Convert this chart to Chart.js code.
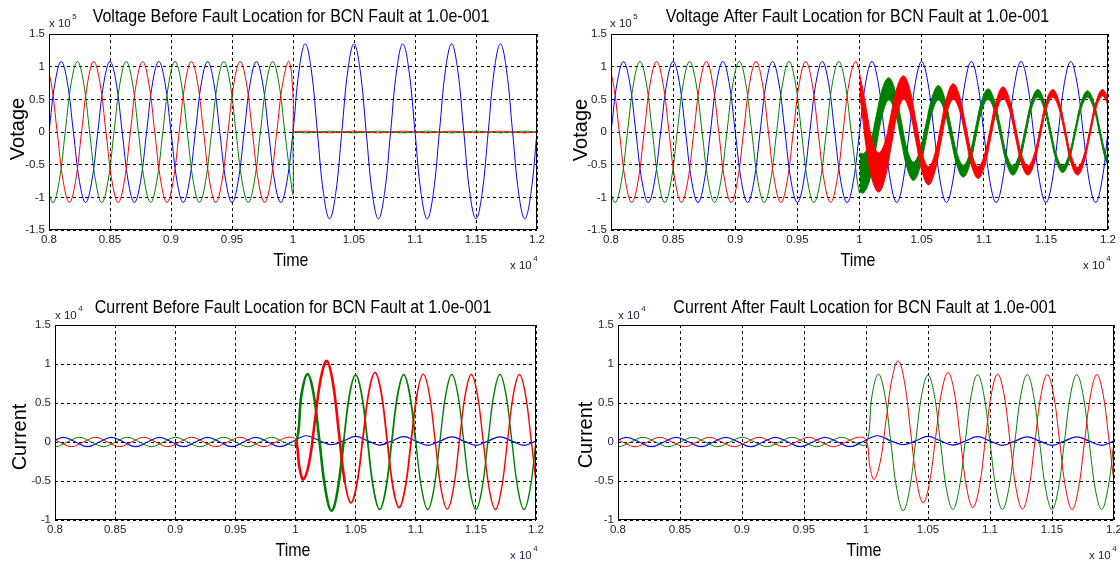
<!DOCTYPE html>
<html><head><meta charset="utf-8">
<script src="https://cdn.jsdelivr.net/npm/chart.js@4.4.0/dist/chart.umd.min.js"></script>
<style>
html,body{margin:0;padding:0;background:#fff;}
#wrap{position:relative;width:1120px;height:561px;overflow:hidden;background:#fff;}
canvas{position:absolute;}
</style></head><body>
<div id="wrap">
<canvas id="c1" width="560" height="280" style="left:0;top:0;width:560px;height:280px"></canvas>
<canvas id="c2" width="560" height="280" style="left:560px;top:0;width:560px;height:280px"></canvas>
<canvas id="c3" width="560" height="281" style="left:0;top:280px;width:560px;height:281px"></canvas>
<canvas id="c4" width="560" height="281" style="left:560px;top:280px;width:560px;height:281px"></canvas>
</div>
<script>
// ---------- tick labels ----------
const xTickLabels = ['0.8','0.85','0.9','0.95','1','1.05','1.1','1.15','1.2'];
const yTickLabelsV = ['-1.5','-1','-0.5','0','0.5','1','1.5'];
const yTickLabelsI = ['-1','-0.5','0','0.5','1','1.5'];

// ---------- voltage (x 10^5), time in samples ----------
const timeV = [8000,8050,8100,8150,8200,8250,8300,8350,8400,8450,8500,8550,8600,8650,8700,8750,8800,8850,8900,8950,9000,9050,9100,9150,9200,9250,9300,9350,9400,9450,9500,9550,9600,9650,9700,9750,9800,9850,9900,9950,10000,10050,10100,10150,10200,10250,10300,10350,10400,10450,10500,10550,10600,10650,10700,10750,10800,10850,10900,10950,11000,11050,11100,11150,11200,11250,11300,11350,11400,11450,11500,11550,11600,11650,11700,11750,11800,11850,11900,11950,12000];
const voltBlueBefore = [0,0.76,1.08,0.76,0,-0.76,-1.08,-0.76, 0,0.76,1.08,0.76,0,-0.76,-1.08,-0.76, 0,0.76,1.08,0.76,0,-0.76,-1.08,-0.76, 0,0.76,1.08,0.76,0,-0.76,-1.08,-0.76, 0,0.76,1.08,0.76,0,-0.76,-1.08,-0.76,
  0,0.95,1.35,0.95,0,-0.94,-1.33,-0.94, 0,0.95,1.35,0.95,0,-0.94,-1.33,-0.94, 0,0.95,1.35,0.95,0,-0.94,-1.33,-0.94, 0,0.95,1.35,0.95,0,-0.94,-1.33,-0.94, 0,0.95,1.35,0.95,0,-0.94,-1.33,-0.94, 0];
const voltBlueAfter = [0,0.76,1.08,0.76,0,-0.76,-1.08,-0.76, 0,0.76,1.08,0.76,0,-0.76,-1.08,-0.76, 0,0.76,1.08,0.76,0,-0.76,-1.08,-0.76, 0,0.76,1.08,0.76,0,-0.76,-1.08,-0.76, 0,0.76,1.08,0.76,0,-0.76,-1.08,-0.76,
  0,0.76,1.08,0.76,0,-0.76,-1.08,-0.76, 0,0.76,1.08,0.76,0,-0.76,-1.08,-0.76, 0,0.76,1.08,0.76,0,-0.76,-1.08,-0.76, 0,0.76,1.08,0.76,0,-0.76,-1.08,-0.76, 0,0.76,1.08,0.76,0,-0.76,-1.08,-0.76, 0];

const timeGreenVPre = [7933,7983,8033,8083,8133,8183,8233,8283,8333,8383,8433,8483,8533,8583,8633,8683,8733,8783,8833,8883,8933,8983,9033,9083,9133,9183,9233,9283,9333,9383,9433,9483,9533,9583,9633,9683,9733,9783,9833,9883,9933];
const voltGreenPre = [0,-0.76,-1.08,-0.76,0,0.76,1.08,0.76, 0,-0.76,-1.08,-0.76,0,0.76,1.08,0.76, 0,-0.76,-1.08,-0.76,0,0.76,1.08,0.76, 0,-0.76,-1.08,-0.76,0,0.76,1.08,0.76, 0,-0.76,-1.08,-0.76,0,0.76,1.08,0.76, 0];
const timeRedVPre = [7967,8017,8067,8117,8167,8217,8267,8317,8367,8417,8467,8517,8567,8617,8667,8717,8767,8817,8867,8917,8967,9017,9067,9117,9167,9217,9267,9317,9367,9417,9467,9517,9567,9617,9667,9717,9767,9817,9867,9917,9967];
const voltRedPre = [1.08,0.76,0,-0.76,-1.08,-0.76,0,0.76, 1.08,0.76,0,-0.76,-1.08,-0.76,0,0.76, 1.08,0.76,0,-0.76,-1.08,-0.76,0,0.76, 1.08,0.76,0,-0.76,-1.08,-0.76,0,0.76, 1.08,0.76,0,-0.76,-1.08,-0.76,0,0.76, 1.08];

// moment of fault
const timeGreenFaultBefore = [9983,10000,10000];
const voltGreenFaultBefore = [-0.76,-0.95,0];
const timeRedFaultBefore = [10000,10000];
const voltRedFaultBefore = [0.55,0];
const timeGreenFaultAfter = [9983,10000];
const voltGreenFaultAfter = [-0.76,-0.94];
const timeRedFaultAfter = [10000];
const voltRedFaultAfter = [0.94];

// near-zero phases after the fault (top-left)
const timeNearZero = [10000,10100,10200,10300,10400,10500,10600,10700,10800,10900,11000,11100,11200,11300,11400,11500,11600,11700,11800,11900,12000];
const voltRedBeforePost = [0,0.012,0,-0.012,0,0.012,0,-0.012,0,0.012,0,-0.012,0,0.012,0,-0.012,0,0.012,0,-0.012,0];
const voltGreenBeforePost = [0,-0.012,0,0.012,0,-0.012,0,0.012,0,-0.012,0,0.012,0,-0.012,0,0.012,0,-0.012,0,0.012,0];

// noisy post-fault bands (upper / lower envelope, top-right)
const timeGreenBand = [10000,10035,10085,10135,10185,10235,10285,10335,10385,10435,10485,10535,10585,10635,10685,10735,10785,10835,10885,10935,10985,11035,11085,11135,11185,11235,11285,11335,11385,11435,11485,11535,11585,11635,11685,11735,11785,11835,11885,11935,11985,12035];
const greenBandUpper = [-0.32,-0.33,-0.17,0.25,0.67,0.83,0.645,0.185,-0.275,-0.46,-0.285,0.125,0.535,0.71,0.525,0.10,-0.325,-0.51,-0.34,0.075,0.49,0.66,0.49,0.075,-0.35,-0.52,-0.35,0.065,0.48,0.65,0.48,0.065,-0.35,-0.52,-0.35,0.05,0.46,0.63,0.46,0.05,-0.35,-0.52];
const greenBandLower = [-0.92,-0.93,-0.71,-0.22,0.27,0.49,0.315,-0.125,-0.565,-0.74,-0.555,-0.125,0.305,0.49,0.315,-0.10,-0.515,-0.69,-0.52,-0.095,0.33,0.50,0.33,-0.075,-0.49,-0.66,-0.49,-0.065,0.36,0.53,0.36,-0.045,-0.45,-0.62,-0.45,-0.05,0.36,0.53,0.36,-0.05,-0.45,-0.62];
const timeRedBand = [10000,10025,10055,10105,10155,10205,10255,10305,10355,10405,10455,10505,10555,10605,10655,10705,10755,10805,10855,10905,10955,11005,11055,11105,11155,11205,11255,11305,11355,11405,11455,11505,11555,11605,11655,11705,11755,11805,11855,11905,11955,12005,12055];
const redBandUpper = [0.90,0.67,0.35,-0.15,-0.32,-0.15,0.28,0.70,0.86,0.65,0.16,-0.325,-0.53,-0.345,0.105,0.555,0.74,0.55,0.10,-0.345,-0.53,-0.35,0.08,0.51,0.69,0.515,0.085,-0.345,-0.52,-0.35,0.065,0.48,0.65,0.48,0.06,-0.37,-0.54,-0.365,0.05,0.47,0.65,0.47,0.05];
const redBandLower = [0.60,0.23,-0.25,-0.75,-0.92,-0.71,-0.22,0.28,0.50,0.31,-0.15,-0.615,-0.81,-0.615,-0.155,0.305,0.50,0.33,-0.10,-0.535,-0.71,-0.53,-0.10,0.33,0.51,0.345,-0.075,-0.495,-0.66,-0.49,-0.065,0.36,0.53,0.36,-0.06,-0.49,-0.66,-0.475,-0.05,0.37,0.55,0.37,-0.05];

// ---------- current (x 10^4) ----------
const timeBlueIPre = [7970,8070,8170,8270,8370,8470,8570,8670,8770,8870,8970,9070,9170,9270,9370,9470,9570,9670,9770,9870,9970];
const curBluePre = [0,0.06,0,-0.06,0,0.06,0,-0.06,0,0.06,0,-0.06,0,0.06,0,-0.06,0,0.06,0,-0.06,0];
const timeBlueIPost = [10090,10200,10300,10400,10500,10600,10700,10800,10900,11000,11100,11200,11300,11400,11500,11600,11700,11800,11900,12000];
const curBluePost = [0.08,0.015,-0.035,0.015,0.072,0.015,-0.04,0.013,0.068,0.013,-0.042,0.012,0.066,0.012,-0.043,0.012,0.065,0.012,-0.043,0.012];

const timeGreenIPre = [7903,8003,8103,8203,8303,8403,8503,8603,8703,8803,8903,9003,9103,9203,9303,9403,9503,9603,9703,9803,9903];
const curGreenPre = [0,-0.06,0,0.06,0,-0.06,0,0.06,0,-0.06,0,0.06,0,-0.06,0,0.06,0,-0.06,0,0.06,0];
const timeGreenIPost = [10000,10050,10100,10150,10200,10250,10300,10350,10400,10450,10500,10550,10600,10650,10700,10750,10800,10850,10900,10950,11000,11050,11100,11150,11200,11250,11300,11350,11400,11450,11500,11550,11600,11650,11700,11750,11800,11850,11900,11950,12000,12050,12100];
const curGreenPost = [-0.03,0.61,0.87,0.62,0,-0.62,-0.88,-0.62,0,0.61,0.86,0.61,0,-0.61,-0.865,-0.61,0,
  0.61,0.865,0.61,0,-0.61,-0.865,-0.61,0, 0.61,0.865,0.61,0,-0.61,-0.865,-0.61,0, 0.61,0.865,0.61,0,-0.61,-0.865,-0.61,0, 0.61,0.865];

const timeRedIPre = [7937,8037,8137,8237,8337,8437,8537,8637,8737,8837,8937,9037,9137,9237,9337,9437,9537,9637,9737,9837,9937];
const curRedPre = [0.06,0,-0.06,0,0.06,0,-0.06,0,0.06,0,-0.06,0,0.06,0,-0.06,0,0.06,0,-0.06,0,0.06];
const timeRedIPost = [10000,10033,10065,10114,10162,10211,10260,10310,10360,10410,10460,10510,10561,10611,10662,10712,10762,10812,10862,10912,10962,11012,11062,11112,11162,11212,11262,11312,11362,11412,11462,11512,11562,11612,11662,11712,11762,11812,11862,11912,11962,12012,12062];
const curRedPost = [0.03,-0.33,-0.48,-0.26,0.28,0.82,1.04,0.77,0.13,-0.51,-0.78,-0.54,0.055,0.65,0.89,0.64,0.025,-0.59,-0.84,-0.59,0.015,0.62,0.87,0.62,0.005,-0.61,-0.86,-0.61,0,0.61,0.865,0.61,0,-0.61,-0.865,-0.61,0,0.61,0.865,0.61,0,-0.61,-0.865];

// ---------- helpers ----------
const BLUE = '#0000ff', GREEN = '#008000', RED = '#ff0000';
const pts = (xs, ys) => xs.map((x, i) => ({x, y: ys[i]}));

function hasFont(name) {
  const c = document.createElement('canvas').getContext('2d');
  const s = 'abcdefghijklmnop 0123456789.-';
  c.font = '20px monospace'; const a = c.measureText(s).width;
  c.font = '20px "' + name + '", monospace'; const b = c.measureText(s).width;
  return Math.abs(a - b) > 0.5;
}
const NARROW = hasFont('Liberation Sans Narrow');
const TICK_FAMILY = NARROW ? '"Liberation Sans Narrow", "Liberation Sans", Arial, sans-serif' : '"Liberation Sans", Arial, sans-serif';
const TICK_SIZE = NARROW ? 13 : 11.5;
const MAIN_FAMILY = '"Liberation Sans", Arial, Helvetica, sans-serif';

function ln(data, color, extra) {
  return Object.assign({data, borderColor: color, backgroundColor: color, borderWidth: 1,
    pointRadius: 0, pointHoverRadius: 0, tension: 0.4, fill: false, clip: 0}, extra || {});
}

const decor = {
  id: 'decor',
  afterDraw(chart, args, o) {
    const ctx = chart.ctx, a = chart.chartArea;
    ctx.save();
    ctx.strokeStyle = '#000'; ctx.lineWidth = 1;
    const l = Math.round(a.left) + 0.5, t = Math.round(a.top) + 0.5;
    const r = Math.round(a.right) - 0.5, b = Math.round(a.bottom) - 0.5;
    ctx.strokeRect(l, t, r - l, b - t);
    ctx.fillStyle = '#000';
    ctx.textAlign = 'center'; ctx.textBaseline = 'middle';
    ctx.save(); ctx.translate(o.tx, o.ty); ctx.scale(1, 1.12);
    ctx.font = '16px ' + MAIN_FAMILY; ctx.fillText(o.title, 0, 0); ctx.restore();
    ctx.save(); ctx.translate(o.xlx, o.xly); ctx.scale(1, 1.12);
    ctx.font = '16px ' + MAIN_FAMILY; ctx.fillText(o.xl, 0, 0); ctx.restore();
    ctx.save(); ctx.translate(o.ylx, o.yly); ctx.rotate(-Math.PI / 2);
    ctx.font = '20px ' + MAIN_FAMILY; ctx.fillText(o.yl, 0, 0); ctx.restore();
    const exp = (x, y, e) => {
      ctx.textAlign = 'left'; ctx.fillStyle = o.tickColor;
      ctx.font = TICK_SIZE + 'px ' + TICK_FAMILY;
      ctx.fillText('x 10', x, y);
      const w = ctx.measureText('x 10').width;
      ctx.font = Math.round(TICK_SIZE * 0.7) + 'px ' + TICK_FAMILY;
      ctx.fillText(e, x + w + 1.5, y - 7);
    };
    exp(o.yEx, o.yEy, o.yExp);
    exp(o.xEx, o.xEy, o.xExp);
    ctx.restore();
  }
};

function makeChart(id, c) {
  const tickFont = {family: TICK_FAMILY, size: TICK_SIZE};
  return new Chart(document.getElementById(id), {
    type: 'line',
    data: {datasets: c.datasets},
    plugins: [decor],
    options: {
      responsive: false, animation: false, events: [],
      layout: {padding: {left: 0, right: c.padRight, top: c.top, bottom: 0}},
      plugins: {legend: {display: false}, title: {display: false}, tooltip: {enabled: false},
        decor: c.decor},
      scales: {
        x: {type: 'linear', min: 8000, max: 12000,
          ticks: {stepSize: 500, autoSkip: false, maxRotation: 0, padding: 3, color: c.tickColor, font: tickFont,
            callback: (v, i) => xTickLabels[i]},
          grid: {color: '#000', lineWidth: 1, drawTicks: false},
          border: {display: false, dash: [3, 3]},
          afterFit: s => { s.height = c.xHeight; s.paddingLeft = 0; s.paddingRight = 0; }
        },
        y: {type: 'linear', min: c.yMin, max: c.yMax,
          ticks: {stepSize: 0.5, autoSkip: false, padding: 4, color: c.tickColor, font: tickFont,
            callback: (v, i) => c.yLabels[i]},
          grid: {color: '#000', lineWidth: 1, drawTicks: false},
          border: {display: false, dash: [3, 3]},
          afterFit: s => { s.width = c.yWidth; s.paddingTop = 0; s.paddingBottom = 0; }
        }
      }
    }
  });
}

// ---------- Top-left: Voltage Before ----------
makeChart('c1', {
  yMin: -1.5, yMax: 1.5, yLabels: yTickLabelsV, padRight: 23, top: 34, yWidth: 49, xHeight: 50, tickColor: '#1a1a1a',
  datasets: [
    ln(pts(timeNearZero, voltRedBeforePost), RED),
    ln(pts(timeRedVPre, voltRedPre).concat(pts(timeRedFaultBefore, voltRedFaultBefore)), RED),
    ln(pts(timeNearZero, voltGreenBeforePost), GREEN),
    ln(pts(timeGreenVPre, voltGreenPre).concat(pts(timeGreenFaultBefore, voltGreenFaultBefore)), GREEN),
    ln(pts(timeV, voltBlueBefore), BLUE)
  ],
  decor: {title: 'Voltage Before Fault Location for BCN Fault at 1.0e-001', tx: 291, ty: 17,
    xl: 'Time', xlx: 291, xly: 261, yl: 'Votage', ylx: 18.5, yly: 129,
    yExp: '5', yEx: 49, yEy: 24, xExp: '4', xEx: 510, xEy: 266, tickColor: '#1a1a1a'}
});

// ---------- Top-right: Voltage After ----------
makeChart('c2', {
  yMin: -1.5, yMax: 1.5, yLabels: yTickLabelsV, padRight: 12, top: 34, yWidth: 51, xHeight: 50, tickColor: '#1a1a1a',
  datasets: [
    ln(pts(timeRedBand, redBandUpper), RED),
    ln(pts(timeRedBand, redBandLower), RED, {fill: '-1'}),
    ln(pts(timeRedVPre, voltRedPre).concat(pts(timeRedFaultAfter, voltRedFaultAfter)), RED),
    ln(pts(timeGreenBand, greenBandUpper), GREEN),
    ln(pts(timeGreenBand, greenBandLower), GREEN, {fill: '-1'}),
    ln(pts(timeGreenVPre, voltGreenPre).concat(pts(timeGreenFaultAfter, voltGreenFaultAfter)), GREEN),
    ln(pts(timeV, voltBlueAfter), BLUE)
  ],
  decor: {title: 'Voltage After Fault Location for BCN Fault at 1.0e-001', tx: 297.5, ty: 17,
    xl: 'Time', xlx: 298, xly: 261, yl: 'Votage', ylx: 21.5, yly: 130,
    yExp: '5', yEx: 50, yEy: 24, xExp: '4', xEx: 523, xEy: 266, tickColor: '#1a1a1a'}
});

// ---------- Bottom-left: Current Before ----------
const thickSeg = {borderWidth: s => { const x = s.p0.parsed.x; return x < 10000 ? 1 : x < 10400 ? 2.6 : x < 11000 ? 1.8 : 1.4; }};
makeChart('c3', {
  yMin: -1, yMax: 1.5, yLabels: yTickLabelsI, padRight: 24, top: 45, yWidth: 55, xHeight: 41, tickColor: '#1c1c44',
  datasets: [
    ln(pts(timeRedIPre, curRedPre).concat(pts(timeRedIPost, curRedPost)), RED, {segment: thickSeg}),
    ln(pts(timeGreenIPre, curGreenPre).concat(pts(timeGreenIPost, curGreenPost)), GREEN, {segment: thickSeg}),
    ln(pts(timeBlueIPre, curBluePre).concat(pts(timeBlueIPost, curBluePost)), BLUE, {borderWidth: 1.2})
  ],
  decor: {title: 'Current Before Fault Location for BCN Fault at 1.0e-001', tx: 293, ty: 28,
    xl: 'Time', xlx: 293, xly: 271, yl: 'Current', ylx: 20, yly: 157,
    yExp: '4', yEx: 55, yEy: 36, xExp: '4', xEx: 510, xEy: 276, tickColor: '#1c1c44'}
});

// ---------- Bottom-right: Current After ----------
makeChart('c4', {
  yMin: -1, yMax: 1.5, yLabels: yTickLabelsI, padRight: 6, top: 45, yWidth: 58, xHeight: 41, tickColor: '#1c1c44',
  datasets: [
    ln(pts(timeRedIPre, curRedPre).concat(pts(timeRedIPost, curRedPost)), RED),
    ln(pts(timeGreenIPre, curGreenPre).concat(pts(timeGreenIPost, curGreenPost)), GREEN),
    ln(pts(timeBlueIPre, curBluePre).concat(pts(timeBlueIPost, curBluePost)), BLUE, {borderWidth: 1.2})
  ],
  decor: {title: 'Current After Fault Location for BCN Fault at 1.0e-001', tx: 305, ty: 28,
    xl: 'Time', xlx: 304, xly: 271, yl: 'Current', ylx: 26.5, yly: 155,
    yExp: '4', yEx: 58, yEy: 36, xExp: '4', xEx: 529, xEy: 276, tickColor: '#1c1c44'}
});
</script>
</body></html>
